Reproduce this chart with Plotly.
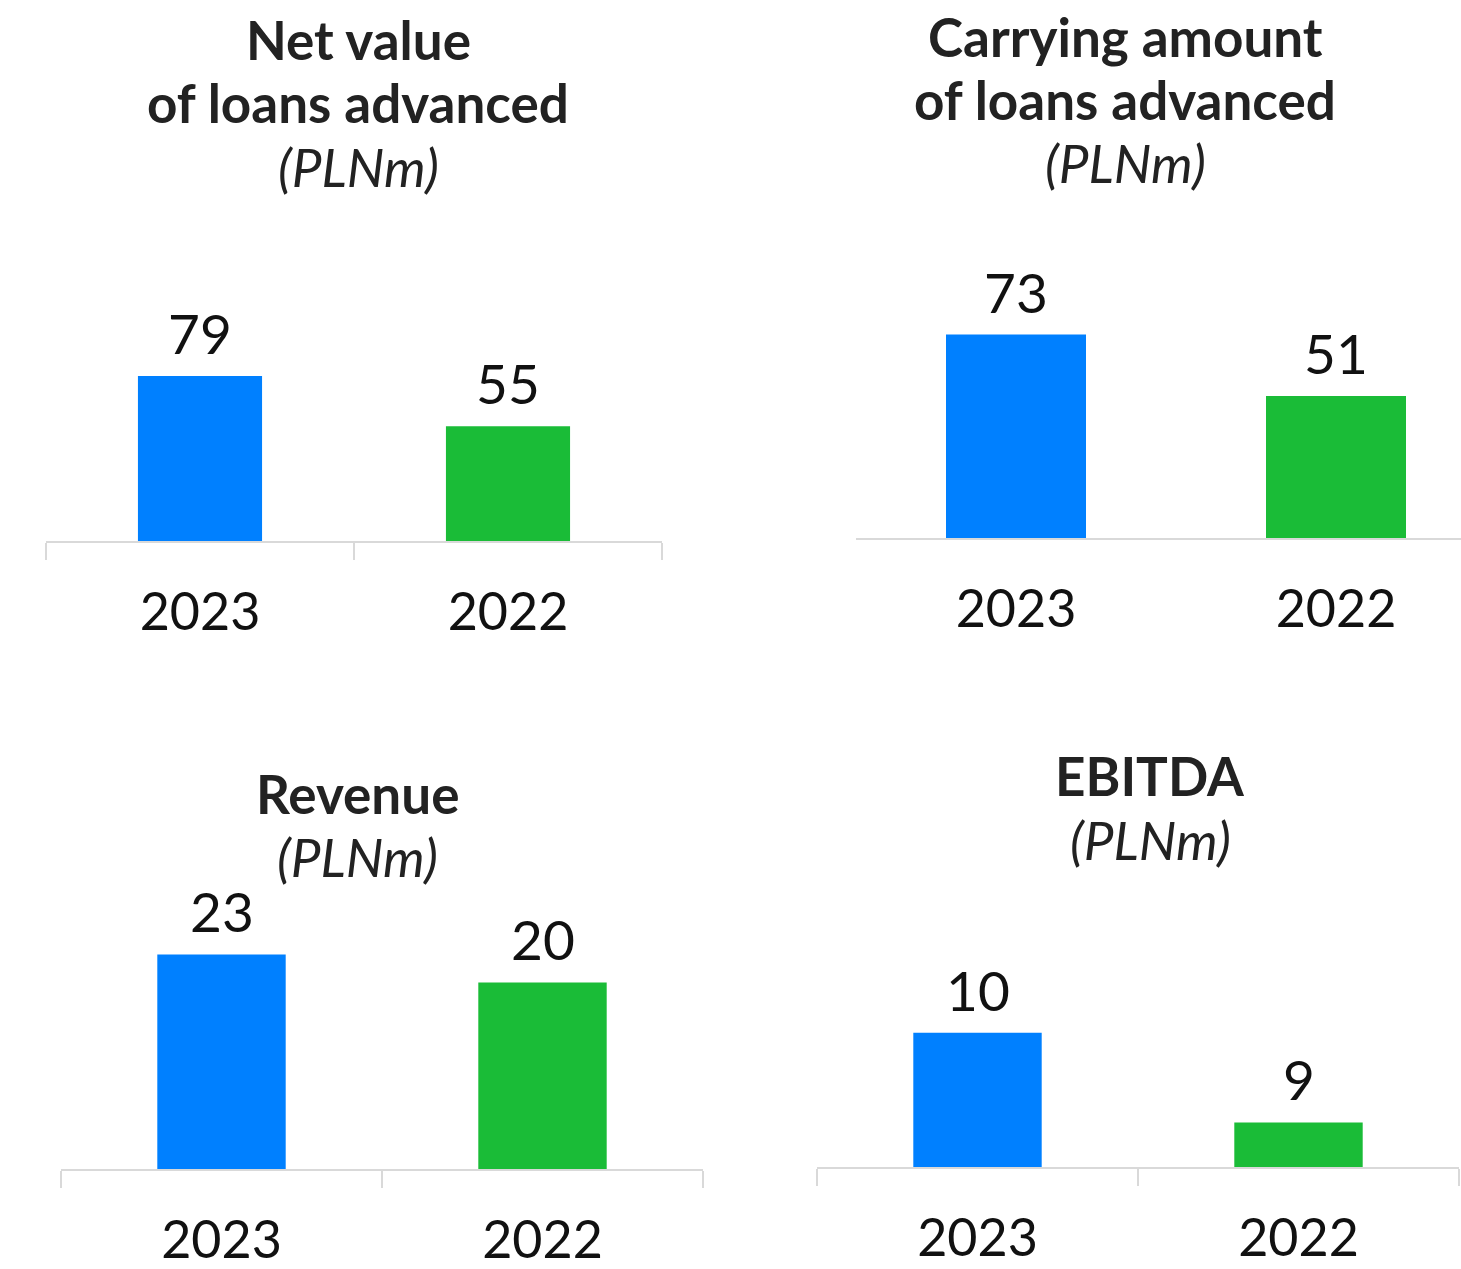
import plotly.graph_objects as go

years = ['2023', '2022']
net_loans = [79, 55]
carrying_loans = [73, 51]
revenue = [23, 20]
ebitda = [10, 9]

bar_colors = ['#0080FF', '#1ABC37']
W, H = 1461, 1269
FONT = 'Lato'


def px(x):
    return x / W


def py(y):
    return 1 - y / H


# panel layout in screen pixels: left, right, axis line y, top of plot, px per unit, axis base
panels = [
    dict(vals=net_loans, lines=['Net value', 'of loans advanced'], ys=[40, 103, 167],
         tx=358, left=46, right=662, bottom=543, top=200, scale=2.1, base=0,
         step=308, bw=0.403, ticks=True),
    dict(vals=carrying_loans, lines=['Carrying amount', 'of loans advanced'], ys=[37, 100, 163],
         tx=1125, left=856, right=1461, bottom=540, top=200, scale=2.8, base=0,
         step=320, bw=0.4375, ticks=False),
    dict(vals=revenue, lines=['Revenue'], ys=[796, 859],
         tx=357, left=61, right=703, bottom=1173, top=700, scale=9.37, base=0,
         step=321, bw=0.40, ticks=True),
    dict(vals=ebitda, lines=['EBITDA'], ys=[778, 842],
         tx=1150, left=817, right=1459, bottom=1171, top=700, scale=90, base=8.5,
         step=321, bw=0.40, ticks=True),
]

fig = go.Figure()
annotations = []

for i, p in enumerate(panels):
    n = '' if i == 0 else str(i + 1)
    fig.add_trace(go.Bar(
        x=years, y=p['vals'],
        marker=dict(color=bar_colors, line=dict(width=0)),
        width=p['bw'], xaxis='x' + n, yaxis='y' + n, showlegend=False,
        hoverinfo='skip',
    ))
    xr = [-0.5, -0.5 + (p['right'] - p['left']) / p['step']]
    yr = [p['base'], p['base'] + (p['bottom'] - p['top']) / p['scale']]
    fig.layout['xaxis' + n] = dict(
        domain=[px(p['left']), min(px(p['right']), 1)], anchor='y' + n,
        type='category', range=xr,
        showline=True, linecolor='#D9D9D9', linewidth=2,
        ticks='outside' if p['ticks'] else '', tickson='boundaries',
        ticklen=17, tickwidth=2, tickcolor='#D9D9D9',
        ticklabelstandoff=24,
        tickfont=dict(family=FONT, size=52, color='#111111'),
        showgrid=False, zeroline=False,
    )
    fig.layout['yaxis' + n] = dict(
        domain=[py(p['bottom']), py(p['top'])], anchor='x' + n,
        range=yr, showgrid=False, zeroline=False, showline=False,
        showticklabels=False, ticks='',
    )
    for j, v in enumerate(p['vals']):
        annotations.append(dict(
            x=j, y=v, xref='x' + n, yref='y' + n, text=str(v),
            showarrow=False, yanchor='middle', yshift=43,
            font=dict(family=FONT, size=55, color='#111111'),
        ))
    texts = ['<b>%s</b>' % t for t in p['lines']] + ['<i>(PLNm)</i>']
    for t, ty in zip(texts, p['ys']):
        annotations.append(dict(
            x=px(p['tx']), y=py(ty), xref='paper', yref='paper',
            text=t, showarrow=False, xanchor='center', yanchor='middle',
            font=dict(family=FONT, size=53, color='#222222'),
        ))

fig.update_layout(
    width=W, height=H,
    margin=dict(l=0, r=0, t=0, b=0),
    paper_bgcolor='white', plot_bgcolor='white',
    annotations=annotations,
)

fig.write_html('out.html', config={'displayModeBar': False},
               post_script="document.body.style.margin='0';document.body.style.overflow='hidden';")
